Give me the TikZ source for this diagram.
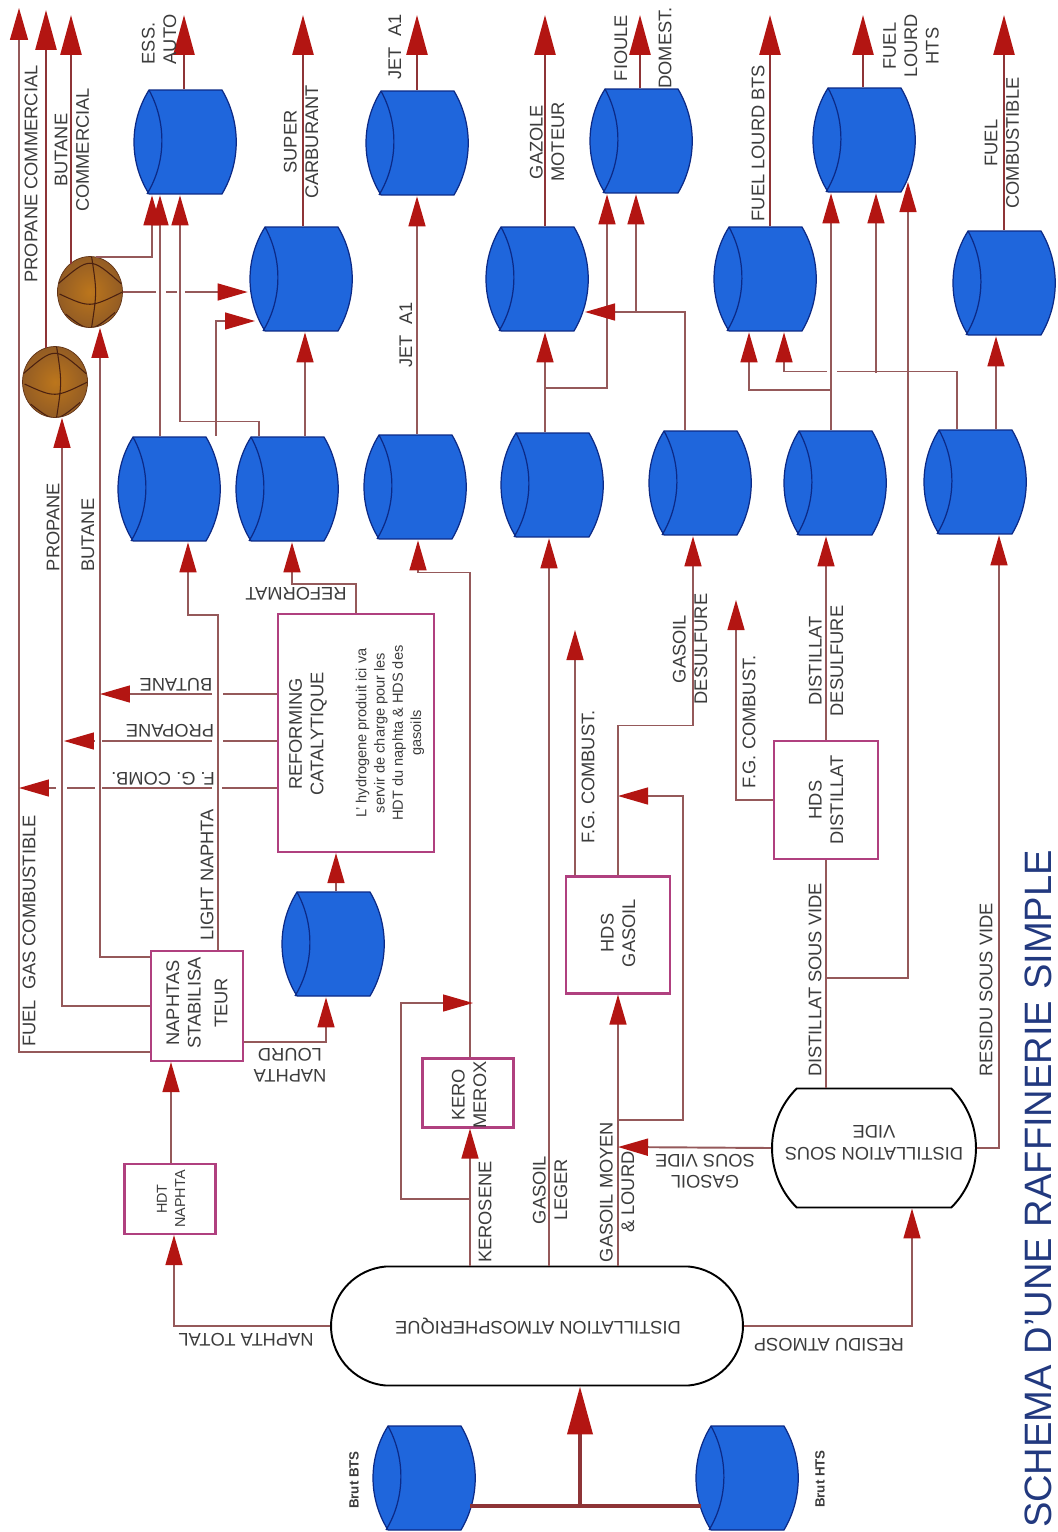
\documentclass[tikz,border=0pt]{standalone}
\usepackage{fontspec}
\setmainfont{Liberation Sans}
\usetikzlibrary{arrows.meta,shapes.misc,shapes.geometric}
\definecolor{tankblue}{HTML}{1F66DC}
\definecolor{tankedge}{HTML}{0C2A86}
\definecolor{flowcol}{HTML}{95595A}
\definecolor{heavycol}{HTML}{8E3436}
\definecolor{tipcol}{HTML}{B31512}
\definecolor{boxcol}{HTML}{B0407F}
\definecolor{labcol}{HTML}{3C3C3C}
\definecolor{titlecol}{HTML}{22397F}
\definecolor{ballbrown}{HTML}{935C24}
\definecolor{ballmid}{HTML}{BC761C}
\definecolor{balledge}{HTML}{4A2010}

\begin{document}
\begin{tikzpicture}[
    x=0.02cm, y=-0.02cm,
    tank/.style={minimum width=2.12cm, minimum height=2.12cm, inner sep=0pt,
        path picture={
            \draw[draw=tankedge, fill=tankblue, line width=0.7pt]
                (-0.72cm,1.04cm) -- (0.74cm,1.04cm)
                .. controls (1.12cm,0.4cm) and (1.12cm,-0.4cm) .. (0.74cm,-1.04cm)
                -- (-0.72cm,-1.04cm)
                .. controls (-1.12cm,-0.4cm) and (-1.12cm,0.4cm) .. (-0.72cm,1.04cm) -- cycle;
            \draw[draw=tankedge, line width=0.7pt]
                (-0.72cm,1.04cm) .. controls (-0.37cm,0.4cm) and (-0.37cm,-0.4cm) .. (-0.76cm,-1.04cm);
        }},
    ball/.style={ellipse, minimum width=1.3cm, minimum height=1.42cm, inner sep=0pt,
        draw=balledge!70!ballbrown, line width=0.4pt, inner color=ballmid, outer color=ballbrown,
        path picture={
            \draw[draw=balledge, line width=0.6pt]
                (-0.63cm,0.17cm) .. controls (0cm,0.71cm) .. (0.62cm,0.17cm)
                (-0.61cm,-0.04cm) .. controls (0cm,-0.32cm) .. (0.65cm,0cm)
                (-0.49cm,-0.44cm) .. controls (0cm,-0.82cm) .. (0.5cm,-0.41cm)
                (0.03cm,0.72cm) .. controls (0.14cm,0cm) .. (0.03cm,-0.72cm);
        }},
    unit/.style={draw=boxcol, fill=white, line width=1.2pt, inner sep=0pt},
    column/.style={rounded rectangle, draw=black, fill=white, line width=1.1pt, inner sep=0pt},
    flowline/.style={draw=flowcol, line width=0.8pt},
    flow/.style={flowline, -{Triangle[length=0.6cm,width=0.34cm,color=tipcol]}},
    outflow/.style={draw=heavycol, line width=1.5pt, -{Triangle[length=0.8cm,width=0.42cm,color=tipcol]}},
    crude/.style={draw=heavycol, line width=2.2pt},
    lab/.style={font=\fontsize{10.4}{12.2}\selectfont, text=labcol, align=center, inner sep=0pt},
    lab90/.style={lab, rotate=90},
    lab180/.style={lab, rotate=180}
]
\useasboundingbox[fill=white] (0,0) rectangle (1058,1532);

\foreach \n/\x/\y in {
    ess/185/142, jet/417/143, fioule/641/141, hts/864/140,
    super/301/279, gazole/537/279, flbts/765/279, fcomb/1004/283,
    ln/169/489, ref/287/489, jetr/415/487, gas/552/485, des/700/483, dist/835/483, res/975/482,
    lourd/333/944, bbts/424/1478, bhts/747/1478}
    \node[tank] (\n) at (\x,\y) {};

\node[ball] (butball) at (90,292) {};
\node[ball] (proball) at (55,382) {};

\node[unit, minimum width=3.12cm, minimum height=4.76cm] (reforming) at (356,733) {};
\node[unit, minimum width=1.84cm, minimum height=2.2cm] (naphtas) at (197,1006) {};
\node[unit, minimum width=1.82cm, minimum height=1.4cm] (hdt) at (170,1199) {};
\node[unit, minimum width=1.82cm, minimum height=1.38cm] (kero) at (468,1093) {};
\node[unit, minimum width=2.08cm, minimum height=2.34cm] (hdsg) at (618,935) {};
\node[unit, minimum width=2.08cm, minimum height=2.36cm] (hdsd) at (826,800) {};
\node[column, rounded rectangle arc length=170, minimum width=8.24cm, minimum height=2.38cm] (atm) at (537,1326) {};
\node[column, rounded rectangle arc length=90, minimum width=4.08cm, minimum height=2.38cm] (vide) at (874,1148) {};

\foreach \n/\x/\y in {
    jgas/545/388, jfl/831/390, jhts/876/373, jfuel/826/978, jbyp/470/1199, jgo/618/1120,
    jcrude/580/1506, jdes/636/312,
    tipbut/100/694, tippro/64/741, tipfg/19/788, tipsup/255/321, tipgaz/585/312,
    tipfgh/575/630, tipfgd/736/600, tipgo/618/796, tipvide/618/1147, tipbyp/473/1003, tiphts/908/182}
    \coordinate (\n) at (\x,\y);

\foreach \t/\x/\y in {ess/184/15, super/303/15, jet/417/15, gazole/545/15, fioule/640/15,
    flbts/770/15, hts/863/15, fcomb/1004/15}{
    \coordinate (out\t) at (\x,\y);
    \draw[outflow] (out\t |- \t.north) -- (out\t);
}
\coordinate (outbut) at (71,15);
\coordinate (outpro) at (46,10);
\coordinate (outfg) at (19,8);
\draw[outflow] (outbut |- butball.125) -- (outbut);
\draw[outflow] (outpro |- proball.105) -- (outpro);
\draw[flow, -{Triangle[length=0.64cm,width=0.36cm,color=tipcol]}] (naphtas.west |- 0,1052) -| (outfg);

\draw[flow] (171,0 |- hdt.north) -- (171,0 |- naphtas.south);
\draw[flow] (atm.west) -| (174,0 |- hdt.south);
\draw[flow] (naphtas.west) -| (62,0 |- proball.south);
\draw[flow] (naphtas.west |- 0,957) -| (100,0 |- butball.south);
\draw[flow] (218,0 |- naphtas.north) -- ++(0,-335) -| (188,0 |- ln.south);
\draw[flow] (naphtas.east |- 0,1042) -| (326,0 |- lourd.south);
\draw[flow] (336,0 |- lourd.north) -- (336,0 |- reforming.south);
\draw[flow] (reforming.north) -- ++(0,-29) -| (292,0 |- ref.south);

\draw[flow, dash pattern=on 1.08cm off 0.22cm on 5cm] (reforming.west |- tipbut) -- (tipbut);
\draw[flow, dash pattern=on 1.08cm off 0.22cm on 2.2cm off 0.14cm on 2cm] (reforming.west |- tippro) -- (tippro);
\draw[flow, dash pattern=on 1.1cm off 0.2cm on 2.2cm off 0.14cm on 0.56cm off 0.22cm on 2cm] (reforming.west |- tipfg) -- (tipfg);

\draw[flow, dash pattern=on 0.66cm off 0.2cm on 0.22cm off 0.16cm on 2cm] (butball.east) -- (super.west |- butball.east);
\draw[flow] (butball.80) -| (152,0 |- ess.south);
\draw[flow] (160,0 |- ln.north) -- (160,0 |- ess.south);
\draw[flow] (259,0 |- ref.north) -- ++(0,-14) -| (180,0 |- ess.south);
\draw[flow] (216,0 |- ln.north) |- (tipsup);
\draw[flow] (305,0 |- ref.north) -- (305,0 |- super.south);

\draw[flow] (470,0 |- atm.north) -- (470,0 |- kero.south);
\draw[flow] (470,0 |- kero.north) -- ++(0,-485) -| (418,0 |- jetr.south);
\draw[flow] (jbyp) -- ++(-69,0) |- (tipbyp);
\draw[flow] (417,0 |- jetr.north) -- (417,0 |- jet.south);

\draw[flow] (549,0 |- atm.north) -- (549,0 |- gas.south);
\draw[flow] (545,0 |- gas.north) -- (545,0 |- gazole.south);
\draw[flow] (jgas) -| (607,0 |- fioule.south);
\draw[flow] (685,0 |- des.north) |- (tipgaz);
\draw[flow] (jdes) -- (jdes |- fioule.south);

\draw[flow] (hdsg.south |- atm.north) -- (hdsg.south);
\draw[flow] (jgo) -- ++(65,0) |- (tipgo);
\draw[flow, line width=1.1pt] (vide.west) -- (tipvide);
\draw[flow] (tipfgh |- hdsg.north) -- (tipfgh);
\draw[flow] (hdsg.north) -- ++(0,-150) -| (693,0 |- des.south);

\draw[flow] (atm.east) -| (912,0 |- vide.south);
\draw[flow] (vide.east) -| (999,0 |- res.south);
\draw[flowline] (hdsd.south |- vide.north) -- (hdsd.south);
\draw[flow] (hdsd.north) -- (hdsd.north |- dist.south);
\draw[flow] (hdsd.west) -| (tipfgd);
\draw[flow] (jfuel) -| (tiphts);
\draw[flow] (831,0 |- dist.north) -- (831,0 |- hts.south);
\draw[flow] (jfl) -| (749,0 |- flbts.south);
\draw[flow, dash pattern=on 3.54cm off 0.2cm on 6cm] (957,0 |- res.north) -- ++(0,-57) -| (784,0 |- flbts.south);
\draw[flow] (jhts) -- (jhts |- hts.south);
\draw[flow] (996,0 |- res.north) -- (996,0 |- fcomb.south);

\draw[crude, shorten >=-0.14cm, shorten <=-0.14cm] (bbts.east |- jcrude) -- (bhts.west |- jcrude);
\draw[crude, -{Triangle[length=0.96cm,width=0.5cm,color=tipcol]}] (jcrude) -- (jcrude |- atm.south);

\node[lab90] (lbpropc) at (31,174) {PROPANE COMMERCIAL};
\node[lab90] (lbbutc) at (72,150) {BUTANE\\COMMERCIAL};
\node[lab90, align=left] (lbess) at (159,39) {ESS.\\AUTO};
\node[lab90] (lbsuper) at (301,142) {SUPER\\CARBURANT};
\node[lab90] (lbjet) at (395,47) {JET\ \ A1};
\node[lab90] (lbjetb) at (406,335) {JET\ \ A1};
\node[lab90] (lbgaz) at (547,142) {GAZOLE\\MOTEUR};
\node[lab90] (lbfioule) at (643,48) {FIOULE\\[13pt]DOMEST.};
\node[lab90] (lbflbts) at (758,143) {FUEL LOURD BTS};
\node[lab90] (lbflhts) at (911,46) {FUEL\\LOURD\\HTS};
\node[lab90] (lbfcomb) at (1002,143) {FUEL\\COMBUSTIBLE};
\node[lab90] (lbpro) at (53,527) {PROPANE};
\node[lab90] (lbbut) at (88,535) {BUTANE};
\node[lab90] (lbfg) at (29,931) {FUEL\ \ GAS COMBUSTIBLE};
\node[lab90] (lblight) at (207,875) {LIGHT NAPHTA};
\node[lab90] at (197,1003) (lbnaph) {NAPHTAS\\STABILISA\\[3pt]TEUR};
\node[lab90] (lbref) at (308,734) {REFORMING\\CATALYTIQUE};
\node[lab90, font=\fontsize{8.3}{10.4}\selectfont] (lbh2) at (390,733) {L' hydrogene produit ici va\\servir de charge pour les\\HDT du naphta \& HDS des\\gasoils};
\node[lab90] (lbhdsg) at (618,933) {HDS\\GASOIL};
\node[lab90] (lbhdsd) at (826,800) {HDS\\DISTILLAT};
\node[lab90, font=\fontsize{8.2}{10.4}\selectfont] (lbhdt) at (171,1199) {HDT\\NAPHTA};
\node[lab90] (lbkero) at (469,1095) {KERO\\MEROX};
\node[lab90] (lbfgh) at (588,777) {F.G. COMBUST.};
\node[lab90] (lbdesg) at (690,649) {GASOIL\\DESULFURE};
\node[lab90] (lbfgd) at (749,722) {F.G. COMBUST.};
\node[lab90] (lbdesd) at (826,661) {DISTILLAT\\DESULFURE};
\node[lab90] (lbdsv) at (815,980) {DISTILLAT SOUS VIDE};
\node[lab90] (lbrsv) at (986,990) {RESIDU SOUS VIDE};
\node[lab90] (lbkersn) at (485,1212) {KEROSENE};
\node[lab90] (lbleger) at (550,1190) {GASOIL\\LEGER};
\node[lab90] (lbmoyen) at (617,1192) {GASOIL MOYEN\\\& LOURD};
\node[lab90, font=\bfseries\fontsize{7.6}{9}\selectfont] (lbbts) at (354,1480) {Brut BTS};
\node[lab90, font=\bfseries\fontsize{7.6}{9}\selectfont] (lbhts) at (820,1479) {Brut HTS};
\node[lab90, font=\fontsize{21.7}{24}\selectfont, text=titlecol] (title) at (1038,1189) {SCHEMA D'UNE RAFFINERIE SIMPLE};

\node[lab180] (lbreformat) at (296,594) {REFORMAT};
\node[lab180] (lbbuti) at (176,685) {BUTANE};
\node[lab180] (lbproi) at (170,731) {PROPANE};
\node[lab180] (lbfgc) at (163,779) {F. G. COMB.};
\node[lab180] (lblourd) at (290,1065) {NAPHTA\\LOURD};
\node[lab180] (lbtotal) at (246,1340) {NAPHTA TOTAL};
\node[lab180] (lbatm) at (538,1326) {DISTILLATION ATMOSPHERIQUE};
\node[lab180] (lbvide) at (874,1143) {DISTILLATION SOUS\\VIDE};
\node[lab180] (lbratm) at (829,1345) {RESIDU ATMOSP};
\node[lab180] (lbgsv) at (705,1171) {GASOIL\\SOUS VIDE};
\end{tikzpicture}
\end{document}
